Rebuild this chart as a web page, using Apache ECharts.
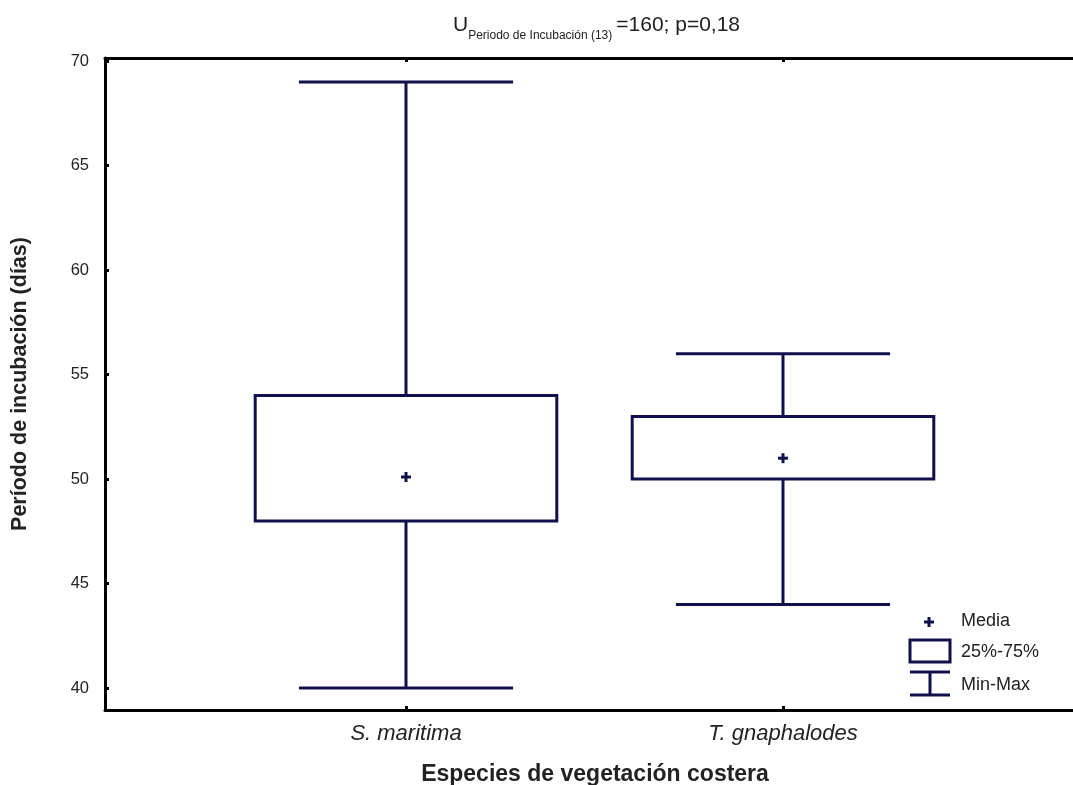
<!DOCTYPE html>
<html>
<head>
<meta charset="utf-8">
<script src="https://cdn.jsdelivr.net/npm/echarts@6/dist/echarts.min.js"></script>
<style>
html,body{margin:0;padding:0;background:#fff;overflow:hidden;}
#chart{width:1073px;height:785px;}
</style>
</head>
<body>
<div id="chart"></div>
<script>
// Data
var categories = ['S. maritima', 'T. gnaphalodes'];
var positions = [1, 2];
var minVals = [40, 44];
var q1Vals = [48, 50];
var q3Vals = [54, 53];
var maxVals = [69, 56];
var meanVals = [50.1, 51];
var yTicks = [40, 45, 50, 55, 60, 65, 70];

var navy = '#10104d';
var FONT = '"Liberation Sans", Arial, sans-serif';

var data = positions.map(function (p, i) {
  return [p, minVals[i], q1Vals[i], q3Vals[i], maxVals[i], meanVals[i]];
});

function renderItem(params, api) {
  var x = api.value(0);
  var pMin = api.coord([x, api.value(1)]);
  var pQ1 = api.coord([x, api.value(2)]);
  var pQ3 = api.coord([x, api.value(3)]);
  var pMax = api.coord([x, api.value(4)]);
  var pMean = api.coord([x, api.value(5)]);
  var boxHalf = api.size([0.4, 0])[0];
  var capHalf = api.size([0.284, 0])[0];
  var cx = pMin[0];
  var ls = { stroke: navy, lineWidth: 3, fill: null };
  var children = [
    { type: 'line', shape: { x1: cx, y1: pQ3[1], x2: cx, y2: pMax[1] }, style: ls },
    { type: 'line', shape: { x1: cx, y1: pQ1[1], x2: cx, y2: pMin[1] }, style: ls },
    { type: 'line', shape: { x1: cx - capHalf, y1: pMax[1], x2: cx + capHalf, y2: pMax[1] }, style: ls },
    { type: 'line', shape: { x1: cx - capHalf, y1: pMin[1], x2: cx + capHalf, y2: pMin[1] }, style: ls },
    { type: 'rect', shape: { x: cx - boxHalf, y: pQ3[1], width: boxHalf * 2, height: pQ1[1] - pQ3[1] }, style: { stroke: navy, lineWidth: 3, fill: '#fff' } },
    { type: 'line', shape: { x1: cx - 5, y1: pMean[1], x2: cx + 5, y2: pMean[1] }, style: ls },
    { type: 'line', shape: { x1: cx, y1: pMean[1] - 5, x2: cx, y2: pMean[1] + 5 }, style: ls }
  ];
  return { type: 'group', children: children };
}

var chart = echarts.init(document.getElementById('chart'), null, { width: 1073, height: 785 });
var axisLineStyle = { color: '#000', width: 3 };
var XMIN = 0.2016, XMAX = 0.2016 + 980 / 377;
chart.setOption({
  backgroundColor: '#fff',
  animation: false,
  title: {
    text: '{u|U}{sub|Periodo de Incubación (13)}{m|=160; p=0,18}',
    left: 448,
    top: 3,
    textStyle: {
      fontWeight: 'normal',
      rich: {
        u: { fontFamily: FONT, fontSize: 21, fontWeight: 'normal', color: '#222', lineHeight: 34 },
        sub: { fontFamily: FONT, fontSize: 12, fontWeight: 'normal', color: '#222', lineHeight: 14, verticalAlign: 'bottom', padding: [0, 4, 0, 0] },
        m: { fontFamily: FONT, fontSize: 21, fontWeight: 'normal', color: '#222', lineHeight: 34 }
      }
    }
  },
  grid: { left: 105, top: 58, width: 980, height: 652, containLabel: false, outerBoundsMode: 'none' },
  xAxis: [{
    type: 'value',
    min: XMIN,
    max: XMAX,
    position: 'bottom',
    splitLine: { show: false },
    axisLine: { show: true, lineStyle: axisLineStyle },
    axisTick: { show: true, inside: true, length: 4, customValues: positions, lineStyle: { color: '#000', width: 3 } },
    axisLabel: {
      customValues: positions,
      margin: 13,
      fontFamily: FONT, fontSize: 22, fontStyle: 'italic', color: '#222',
      formatter: function (v) { var i = positions.indexOf(v); return i >= 0 ? categories[i] : ''; }
    },
    name: 'Especies de vegetación costera',
    nameLocation: 'middle',
    nameGap: 53,
    nameTextStyle: { fontFamily: FONT, fontSize: 23, fontWeight: 'bold', color: '#222' }
  }, {
    type: 'value',
    min: XMIN,
    max: XMAX,
    position: 'top',
    splitLine: { show: false },
    axisLine: { show: true, lineStyle: axisLineStyle },
    axisTick: { show: true, inside: true, length: 4, customValues: positions, lineStyle: { color: '#000', width: 3 } },
    axisLabel: { show: false }
  }],
  yAxis: {
    type: 'value',
    min: 38.95,
    max: 70.15,
    splitLine: { show: false },
    axisLine: { show: true, lineStyle: axisLineStyle },
    axisTick: { show: true, inside: true, length: 4, customValues: yTicks, lineStyle: { color: '#000', width: 3 } },
    axisLabel: { customValues: yTicks, margin: 16, fontFamily: FONT, fontSize: 16.5, color: '#222' },
    name: 'Período de incubación (días)',
    nameLocation: 'middle',
    nameGap: 74,
    nameTextStyle: { fontFamily: FONT, fontSize: 21.5, fontWeight: 'bold', color: '#222' }
  },
  series: [{
    type: 'custom',
    xAxisIndex: 0,
    yAxisIndex: 0,
    renderItem: renderItem,
    data: data,
    encode: { x: 0, y: [1, 2, 3, 4, 5] },
    clip: false
  }],
  graphic: [
    { type: 'line', shape: { x1: 924, y1: 622, x2: 934, y2: 622 }, style: { stroke: navy, lineWidth: 3 } },
    { type: 'line', shape: { x1: 929, y1: 617, x2: 929, y2: 627 }, style: { stroke: navy, lineWidth: 3 } },
    { type: 'rect', shape: { x: 910, y: 640, width: 40, height: 22 }, style: { stroke: navy, lineWidth: 3, fill: '#fff' } },
    { type: 'line', shape: { x1: 910, y1: 672, x2: 950, y2: 672 }, style: { stroke: navy, lineWidth: 3 } },
    { type: 'line', shape: { x1: 930, y1: 672, x2: 930, y2: 695 }, style: { stroke: navy, lineWidth: 3 } },
    { type: 'line', shape: { x1: 910, y1: 695, x2: 950, y2: 695 }, style: { stroke: navy, lineWidth: 3 } },
    { type: 'text', left: 961, top: 612, style: { text: 'Media', fontFamily: FONT, fontSize: 18, fill: '#222' } },
    { type: 'text', left: 961, top: 643, style: { text: '25%-75%', fontFamily: FONT, fontSize: 18, fill: '#222' } },
    { type: 'text', left: 961, top: 676, style: { text: 'Min-Max', fontFamily: FONT, fontSize: 18, fill: '#222' } }
  ]
});
</script>
</body>
</html>
